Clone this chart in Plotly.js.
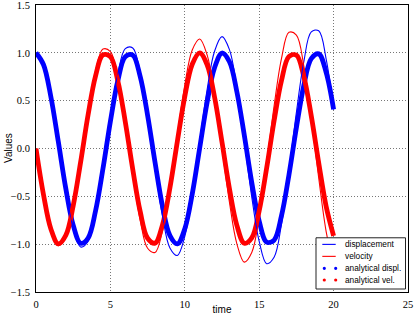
<!DOCTYPE html>
<html>
<head>
<meta charset="utf-8">
<script src="https://cdn.plot.ly/plotly-3.0.1.min.js"></script>
<style>html,body{margin:0;padding:0;background:#fff;}#chart{width:415px;height:315px;}</style>
</head>
<body>
<div id="chart"></div>
<script>
// time samples
const time = [0,0.5,1,1.5,2,2.5,3,3.5,4,4.5,5,5.5,6,6.5,7,7.5,8,8.5,9,9.5,10,10.5,11,11.5,12,12.5,13,13.5,14,14.5,15,15.5,16,16.5,17,17.5,18,18.5,19,19.5,20];
// numerical solution (thin lines)
const displacement = [1.000,0.882,0.543,0.064,-0.435,-0.834,-1.030,-0.972,-0.671,-0.200,0.327,0.780,1.044,1.051,0.797,0.342,-0.204,-0.705,-1.039,-1.118,-0.919,-0.489,0.068,0.615,1.016,1.169,1.033,0.639,0.080,-0.505,-0.972,-1.204,-1.137,-0.788,-0.238,0.378,0.908,1.219,1.230,0.935,0.405];
const velocity = [0.000,-0.484,-0.855,-1.017,-0.928,-0.608,-0.131,0.384,0.809,1.039,1.013,0.734,0.270,-0.268,-0.745,-1.043,-1.086,-0.860,-0.415,0.138,0.663,1.030,1.145,0.978,0.564,0.005,-0.562,-0.997,-1.188,-1.087,-0.714,-0.158,0.444,0.943,1.214,1.186,0.862,0.320,-0.308,-0.868,-1.218];
// analytical solution (thick dotted)
const analyticalDispl = [1.000,0.878,0.540,0.071,-0.416,-0.801,-0.990,-0.936,-0.654,-0.211,0.284,0.709,0.960,0.977,0.754,0.347,-0.146,-0.602,-0.911,-0.997,-0.839,-0.476,0.004,0.483,0.844,0.998,0.907,0.592,0.137,-0.355,-0.760,-0.978,-0.958,-0.702,-0.275,0.219,0.660,0.939,0.989,0.795,0.408];
const analyticalVel = [0.000,-0.479,-0.841,-0.997,-0.909,-0.598,-0.141,0.351,0.757,0.978,0.959,0.706,0.279,-0.215,-0.657,-0.938,-0.989,-0.798,-0.412,0.075,0.544,0.880,1.000,0.875,0.537,0.066,-0.420,-0.804,-0.991,-0.935,-0.650,-0.206,0.288,0.712,0.961,0.976,0.751,0.340,-0.150,-0.606,-0.913];
const xTicks = [0,5,10,15,20,25];
const yTicks = [-1.5,-1.0,-0.5,0.0,0.5,1.0,1.5];
const legendNames = ['displacement','velocity','analytical displ.','analytical vel.'];
const legendColors = ['#0000ff','#ff0000','#0000ff','#ff0000'];
const legendKinds = ['line','line','dots','dots'];

const traces = [
  {x: time, y: analyticalDispl, mode:'lines', line:{color:'#0000ff', width:4.8, shape:'spline'}, showlegend:false, hoverinfo:'skip'},
  {x: time, y: analyticalVel, mode:'lines', line:{color:'#ff0000', width:4.8, shape:'spline'}, showlegend:false, hoverinfo:'skip'},
  {x: time, y: displacement, mode:'lines', name:legendNames[0], line:{color:'#0000ff', width:1.1, shape:'spline'}, showlegend:false},
  {x: time, y: velocity, mode:'lines', name:legendNames[1], line:{color:'#ff0000', width:1.1, shape:'spline'}, showlegend:false}
];

// plot area in pixels: left 36, right 408, top 4.5, bottom 292
const PL=36, PR=408, PT=4.5, PB=292;
const px = v => (v-PL)/(PR-PL);
const py = v => (PB-v)/(PB-PT);

const shapes = [
  {type:'rect', xref:'paper', yref:'paper', x0:px(316), x1:px(405.5), y0:py(289), y1:py(237.7), fillcolor:'#fff', line:{color:'#222', width:1}, layer:'above'}
];
const annotations = [];
const rowY = [244.3, 256.3, 268.3, 280];
legendNames.forEach((n,i)=>{
  if (legendKinds[i]==='line') {
    shapes.push({type:'line', xref:'paper', yref:'paper', x0:px(322.3), x1:px(335.7), y0:py(rowY[i]), y1:py(rowY[i]), line:{color:legendColors[i], width:1.1}, layer:'above'});
  } else {
    [324.3, 335.7].forEach(cx=>{
      shapes.push({type:'circle', xref:'paper', yref:'paper', x0:px(cx-1.6), x1:px(cx+1.6), y0:py(rowY[i]+1.6), y1:py(rowY[i]-1.6), fillcolor:legendColors[i], line:{width:0}, layer:'above'});
    });
  }
  annotations.push({xref:'paper', yref:'paper', x:px(343), y:py(rowY[i]), xanchor:'left', yanchor:'middle', showarrow:false, text:n,
    font:{family:'Liberation Sans', size:8.3, color:'#000'}});
});
// y-axis title as a rotated annotation for exact placement
annotations.push({xref:'paper', yref:'paper', x:px(8.5), y:0.5, xanchor:'center', yanchor:'middle', showarrow:false, text:'Values', textangle:-90,
  font:{family:'Liberation Sans', size:10, color:'#000'}});

const serif = {family:'Liberation Serif, DejaVu Serif, serif', size:10.5, color:'#000'};
const sans = {family:'Liberation Sans', size:10, color:'#000'};

const layout = {
  width:415, height:315,
  margin:{l:PL, r:415-PR, t:PT, b:315-PB, pad:0},
  paper_bgcolor:'#fff', plot_bgcolor:'#fff',
  showlegend:false,
  shapes, annotations,
  xaxis:{range:[0,25], tickvals:xTicks, ticktext:xTicks.map(String), showline:true, linecolor:'#000', linewidth:1, mirror:true,
         showgrid:true, gridcolor:'#777', griddash:'1px,2px', gridwidth:1, zeroline:false, ticks:'outside', ticklen:2, tickcolor:'rgba(0,0,0,0)', tickfont:serif,
         ticklabeloverflow:'allow', title:{text:'time', font:sans, standoff:2}},
  yaxis:{range:[-1.5,1.5], tickvals:yTicks, ticktext:yTicks.map(v=>(v<0?'\u2212':'')+Math.abs(v).toFixed(1)), showline:true, linecolor:'#000', linewidth:1, mirror:true,
         showgrid:true, gridcolor:'#777', griddash:'1px,2px', gridwidth:1, zeroline:false, ticks:'outside', ticklen:3, tickcolor:'rgba(0,0,0,0)', tickfont:serif,
         ticklabeloverflow:'allow'}
};

Plotly.newPlot('chart', traces, layout, {staticPlot:true, displayModeBar:false});
</script>
</body>
</html>
